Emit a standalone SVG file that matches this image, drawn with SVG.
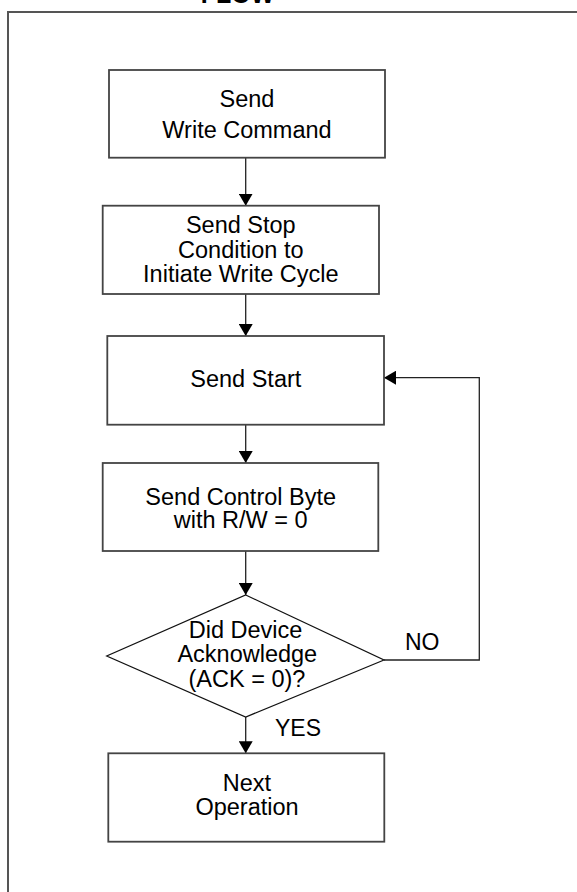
<svg xmlns="http://www.w3.org/2000/svg" width="577" height="892" viewBox="0 0 577 892">
  <defs>
    <style>
      .frame { fill: none; stroke: #555; stroke-width: 2; }
      .box { fill: #fff; stroke: #444; stroke-width: 1.8; }
      .dia { fill: #fff; stroke: #111; stroke-width: 1.2; }
      .conn { fill: none; stroke: #222; stroke-width: 1.3; }
      .t { font-family: "Liberation Sans", Arial, sans-serif; font-size: 23.5px; fill: #000; text-anchor: middle; }
      .lbl { font-family: "Liberation Sans", Arial, sans-serif; font-size: 23px; fill: #000; }
      .title { font-family: "Liberation Sans", Arial, sans-serif; font-size: 25px; font-weight: bold; fill: #000; text-anchor: middle; }
    </style>
    <marker id="arr" viewBox="0 0 12 14" refX="12" refY="7" markerWidth="12" markerHeight="14" orient="auto" markerUnits="userSpaceOnUse">
      <path d="M0,0 L12,7 L0,14 z" fill="#000"/>
    </marker>
  </defs>
  <rect width="577" height="892" fill="#fff"/>
  <text class="title" x="237.5" y="3">FLOW</text>
  <rect class="frame" x="8" y="12" width="600" height="900"/>

  <g id="connectors">
    <line class="conn" x1="245.7" y1="157.7" x2="245.7" y2="205.7" marker-end="url(#arr)"/>
    <line class="conn" x1="245.7" y1="294" x2="245.7" y2="336" marker-end="url(#arr)"/>
    <line class="conn" x1="245.7" y1="424.7" x2="245.7" y2="463" marker-end="url(#arr)"/>
    <line class="conn" x1="245.7" y1="551" x2="245.7" y2="595" marker-end="url(#arr)"/>
    <line class="conn" x1="245.7" y1="717" x2="245.7" y2="753.3" marker-end="url(#arr)"/>
    <polyline class="conn" points="384,660 479.3,660 479.3,377.7 384,377.7" marker-end="url(#arr)"/>
    <text class="lbl" x="405" y="650">NO</text>
    <text class="lbl" x="275" y="736">YES</text>
  </g>

  <g id="send-write">
    <rect class="box" x="109" y="70" width="276" height="87.7"/>
    <text class="t" x="247" y="106.7">Send</text>
    <text class="t" x="247" y="137.7">Write Command</text>
  </g>

  <g id="send-stop">
    <rect class="box" x="102.7" y="205.7" width="276.3" height="88.3"/>
    <text class="t" x="240.8" y="233.3">Send Stop</text>
    <text class="t" x="240.8" y="258.3">Condition to</text>
    <text class="t" x="240.8" y="282">Initiate Write Cycle</text>
  </g>

  <g id="send-start">
    <rect class="box" x="107.3" y="336" width="276.7" height="88.7"/>
    <text class="t" x="245.8" y="387.3">Send Start</text>
  </g>

  <g id="send-control">
    <rect class="box" x="102.7" y="463" width="275.6" height="88"/>
    <text class="t" x="240.7" y="505">Send Control Byte</text>
    <text class="t" x="240.7" y="528.3">with R/W = 0</text>
  </g>

  <g id="ack-decision">
    <polygon class="dia" points="245.7,595 384,660 245.7,717 106.7,656"/>
    <text class="t" x="245.5" y="638.3">Did Device</text>
    <text class="t" x="247.3" y="662.3">Acknowledge</text>
    <text class="t" x="247" y="687">(ACK = 0)?</text>
  </g>

  <g id="next-op">
    <rect class="box" x="108.3" y="753.3" width="276" height="88.4"/>
    <text class="t" x="247" y="790.7">Next</text>
    <text class="t" x="247" y="815">Operation</text>
  </g>
</svg>
